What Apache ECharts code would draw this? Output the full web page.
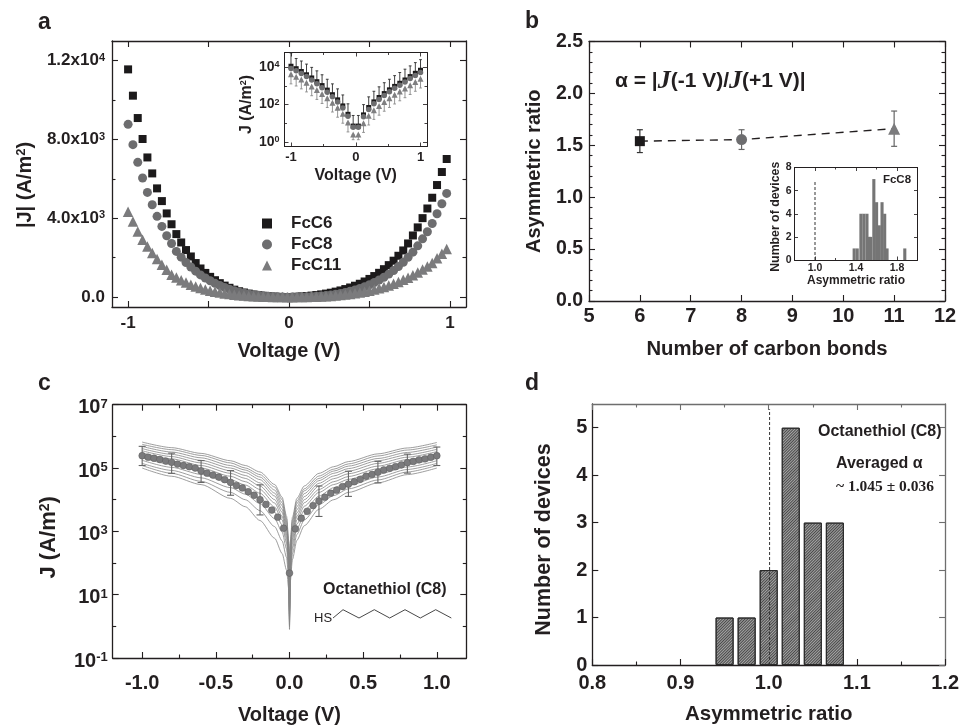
<!DOCTYPE html>
<html><head><meta charset="utf-8">
<style>html,body{margin:0;padding:0;background:#fff}#c{width:962px;height:726px}</style>
<script src="https://cdn.jsdelivr.net/npm/echarts@6/dist/echarts.min.js"></script>
</head><body><div id="c"></div>
<script>
// ---------- Panel a ----------
const voltageA=[-1,-0.97,-0.94,-0.91,-0.88,-0.85,-0.82,-0.79,-0.76,-0.73,-0.7,-0.67,-0.64,-0.61,-0.58,-0.55,-0.52,-0.49,-0.46,-0.43,-0.4,-0.37,-0.34,-0.31,-0.28,-0.25,-0.22,-0.19,-0.16,-0.13,-0.1,-0.07,-0.04,-0.01,0.02,0.05,0.08,0.11,0.14,0.17,0.2,0.23,0.26,0.29,0.32,0.35,0.38,0.41,0.44,0.47,0.5,0.53,0.56,0.59,0.62,0.65,0.68,0.71,0.74,0.77,0.8,0.83,0.86,0.89,0.92,0.95,0.98];
const fcC6=[11560,10225,9090,8025,7090,6280,5520,4875,4250,3700,3200,2775,2390,2065,1730,1455,1230,1030,860,710,585,475,380,300,235,180,135,100,70,45,28,14,5,1,8,20,35,55,78,105,140,180,225,280,340,410,490,580,680,795,925,1070,1235,1420,1625,1850,2100,2370,2725,3130,3540,4010,4500,5045,5690,6350,7010];
const fcC8=[8770,7740,6840,6045,5315,4690,4100,3590,3115,2725,2320,2030,1760,1530,1320,1130,970,830,700,590,490,405,330,265,210,165,125,92,65,45,28,15,6,1,2,6,12,20,30,44,62,85,115,150,190,240,300,365,440,530,630,745,870,1010,1170,1350,1550,1770,2020,2285,2605,2960,3320,3740,4230,4740,5265];
const fcC11=[4330,3840,3335,2910,2570,2235,1930,1640,1390,1135,1000,860,740,635,540,460,390,330,275,230,190,155,125,100,80,62,47,35,25,17,10,6,3,1,1,3,6,11,17,25,35,47,62,82,105,130,160,195,235,280,330,385,450,520,595,680,775,880,990,1115,1250,1400,1560,1730,1980,2200,2440];
const voltageInset=[-1,-0.92,-0.84,-0.76,-0.68,-0.6,-0.52,-0.44,-0.36,-0.28,-0.2,-0.12,-0.04,0.04,0.12,0.2,0.28,0.36,0.44,0.52,0.6,0.68,0.76,0.84,0.92,1];
const insetC6=[11500,8500,6000,4000,2700,1700,1050,600,340,180,85,30,7,7,28,70,140,240,390,620,950,1400,2100,3200,4800,7000];
const insetC8=[8800,6500,4700,3200,2100,1300,800,460,260,140,65,24,6,6,22,55,110,190,310,490,750,1100,1650,2500,3700,5300];
const insetC11=[4300,3100,2200,1500,950,600,370,220,125,68,32,11,2.5,2.5,10,25,50,85,140,220,340,500,740,1100,1650,2450];
const insetC6Up=[60000,30000,22000,15000,10000,6500,4000,2300,1300,700,330,110,26,26,100,260,520,900,1500,2300,3600,5300,8000,12000,18000,26000];
const insetC11Lo=[1300,1000,700,480,300,190,115,70,40,21,10,3.4,1.3,1.3,3.2,8,16,27,44,70,108,160,235,350,520,780];
// ---------- Panel b ----------
const bonds=[6,8,11];
const ratio=[1.54,1.555,1.66];
const ratioLow=[1.43,1.46,1.49];
const ratioHigh=[1.65,1.65,1.83];
const histBX=[1.382,1.412,1.448,1.477,1.507,1.527,1.543,1.574,1.601,1.627,1.654,1.68,1.703,1.876];
const histBY=[1,1,4,4,4,2,2,7,5,3,5,4,1,1];
// ---------- Panel c ----------
const curveV=[-1,-0.8,-0.6,-0.4,-0.3,-0.2,-0.1,-0.05,-0.02,-0.005,0,0.005,0.02,0.05,0.1,0.2,0.3,0.4,0.6,0.8,1];
const curve1=[6.6e5,4.4e5,2.9e5,1.7e5,1.2e5,7.5e4,3.0e4,1.2e4,3.0e3,500,1,450,2.8e3,1.1e4,2.7e4,6.8e4,1.1e5,1.6e5,2.8e5,4.3e5,6.4e5];
const curve2=[5.6e5,3.8e5,2.5e5,1.45e5,1.0e5,6.2e4,2.5e4,1.0e4,2.5e3,400,1.1,380,2.3e3,9e3,2.2e4,5.6e4,9.2e4,1.35e5,2.4e5,3.7e5,5.4e5];
const curve3=[4.8e5,3.2e5,2.1e5,1.2e5,8.6e4,5.2e4,2.0e4,8e3,2e3,320,1.3,310,1.9e3,7.5e3,1.9e4,4.7e4,8e4,1.15e5,2.0e5,3.1e5,4.6e5];
const curve4=[4.1e5,2.7e5,1.75e5,1.0e5,7.2e4,4.3e4,1.6e4,6.5e3,1.6e3,260,1.5,250,1.5e3,6e3,1.55e4,4e4,6.8e4,9.6e4,1.7e5,2.6e5,3.9e5];
const curve5=[3.5e5,2.3e5,1.45e5,8.2e4,5.8e4,3.4e4,1.3e4,5e3,1.3e3,210,1.7,200,1.2e3,4.8e3,1.25e4,3.3e4,5.6e4,8e4,1.4e5,2.2e5,3.3e5];
const curve6=[3.0e5,1.95e5,1.2e5,6.8e4,4.7e4,2.7e4,1e4,4e3,1e3,170,2,160,950,3.8e3,1e4,2.7e4,4.6e4,6.6e4,1.15e5,1.85e5,2.8e5];
const curve7=[2.5e5,1.6e5,1e5,5.5e4,3.7e4,2.1e4,7.8e3,3e3,800,130,2.4,125,750,3e3,8e3,2.1e4,3.7e4,5.4e4,9.5e4,1.55e5,2.35e5];
const curve8=[2.1e5,1.3e5,8e4,4.3e4,2.9e4,1.6e4,5.8e3,2.3e3,600,100,2.8,95,580,2.3e3,6.2e3,1.7e4,3e4,4.4e4,7.8e4,1.3e5,2e5];
const curve9=[1.75e5,1.05e5,6.3e4,3.3e4,2.1e4,1.15e4,4e3,1.6e3,430,75,3,70,420,1.7e3,4.6e3,1.3e4,2.4e4,3.5e4,6.4e4,1.08e5,1.7e5];
const curve10=[1.4e5,8.4e4,4.9e4,2.4e4,1.5e4,7.5e3,2.5e3,950,280,50,3.5,50,300,1.2e3,3.3e3,9.5e3,1.8e4,2.8e4,5.2e4,9e4,1.4e5];
const curve11=[1.2e5,6.8e4,3.8e4,1.7e4,1e4,4.5e3,1.4e3,500,150,32,4,35,200,800,2.3e3,7e3,1.35e4,2.2e4,4.2e4,7.5e4,1.2e5];
const curve12=[1.0e5,5.5e4,3e4,1.1e4,6e3,2.2e3,600,200,60,15,0.8,25,130,520,1.5e3,5e3,1e4,1.7e4,3.4e4,6.2e4,1.0e5];
const curves=[curve1,curve2,curve3,curve4,curve5,curve6,curve7,curve8,curve9,curve10,curve11,curve12];
const meanV=[-1,-0.96,-0.92,-0.88,-0.84,-0.8,-0.76,-0.72,-0.68,-0.64,-0.6,-0.56,-0.52,-0.48,-0.44,-0.4,-0.36,-0.32,-0.28,-0.24,-0.2,-0.16,-0.12,-0.08,-0.04,0,0.04,0.08,0.12,0.16,0.2,0.24,0.28,0.32,0.36,0.4,0.44,0.48,0.52,0.56,0.6,0.64,0.68,0.72,0.76,0.8,0.84,0.88,0.92,0.96,1];
const meanJ=[2.45e5,2.2e5,2.04e5,1.86e5,1.66e5,1.51e5,1.33e5,1.2e5,1.1e5,1e5,8.1e4,6.9e4,6e4,5.2e4,4.3e4,3.5e4,2.8e4,2.35e4,1.78e4,1.38e4,1e4,7.1e3,4.7e3,2.8e3,1.26e3,48,1.2e3,2.6e3,4.3e3,6.5e3,9.1e3,1.2e4,1.6e4,2e4,2.6e4,3.1e4,3.7e4,4.4e4,5.5e4,6.3e4,7.4e4,8.7e4,9.8e4,1.1e5,1.26e5,1.48e5,1.62e5,1.82e5,1.95e5,2.2e5,2.45e5];
const errV=[-1,-0.8,-0.6,-0.4,-0.2,0.2,0.4,0.6,0.8,1];
const errHigh=[4.84e5,2.95e5,1.72e5,8.3e4,2.95e4,2.7e4,7.9e4,1.62e5,2.75e5,4.6e5];
const errLow=[1.2e5,6.8e4,3.5e4,1.38e4,3.3e3,2.95e3,1.27e4,3.4e4,6.9e4,1.2e5];
// ---------- Panel d ----------
const histDX=[0.95,0.975,1,1.025,1.05,1.075];
const histDY=[1,1,2,5,3,3];

const FONT='"Liberation Sans",Arial,sans-serif';
const INK='#231f20';
const grid=[],xAxis=[],yAxis=[],series=[],graphic=[];
const supRich=sz=>({s:{fontFamily:FONT,fontWeight:'bold',fontSize:sz,color:INK,verticalAlign:'top'}});
const pow10Fmt=v=>'10{s|'+Math.round(Math.log10(v))+'}';

function frame(o){
  const gi=grid.length;
  grid.push({left:o.box[0],top:o.box[1],width:o.box[2]-o.box[0],height:o.box[3]-o.box[1],containLabel:false});
  const lc=o.lineColor||INK, lw=o.lw||1.3, tl=o.tickLen||6, ml=o.minorLen||3.5;
  const build=(s,posMain,posOpp,arr)=>{
    const ax=(pos,vals,len,line,main)=>{
      const a={type:s.type||'value',gridIndex:gi,position:pos,min:s.min,max:s.max,
        axisLine:{show:line,onZero:false,lineStyle:{color:pos===posMain?INK:lc,width:lw}},
        axisTick:{show:true,inside:true,length:len,customValues:vals,lineStyle:{color:pos===posMain?INK:lc,width:lw*0.85}},
        splitLine:{show:false},minorTick:{show:false},
        axisLabel:main?{show:true,customValues:s.labels,formatter:s.fmt,margin:s.margin,color:INK,fontFamily:FONT,fontWeight:'bold',fontSize:s.size,rich:s.rich,padding:s.labelPad,hideOverlap:false}:{show:false}};
      if(main&&s.name){
        a.name=s.name;a.nameLocation='middle';a.nameGap=s.nameGap;
        a.nameTextStyle={color:INK,fontFamily:FONT,fontWeight:'bold',fontSize:s.nameSize,rich:s.nameRich,padding:s.namePad};
      }
      return a;
    };
    const idx=arr.length;
    arr.push(ax(posMain,s.major,tl,true,true));
    arr.push(ax(posOpp,s.major,tl,true,false));
    if(s.minor){arr.push(ax(posMain,s.minor,ml,false,false));arr.push(ax(posOpp,s.minor,ml,false,false));}
    return idx;
  };
  return {x:build(o.x,'bottom','top',xAxis),y:build(o.y,'left','right',yAxis)};
}
const zip=(a,b)=>a.map((v,i)=>[v,b[i]]);
function errorBars(f,xs,lo,hi,color,cap,w,z){
  series.push({type:'custom',xAxisIndex:f.x,yAxisIndex:f.y,z:z||2,silent:true,clip:false,
    data:xs.map((v,i)=>[v,lo[i],hi[i]]),encode:{x:0,y:[1,2]},
    renderItem:(p,api)=>{
      const a=api.coord([api.value(0),api.value(1)]),b=api.coord([api.value(0),api.value(2)]);
      const st={stroke:color,lineWidth:w,fill:null};
      return {type:'group',children:[
        {type:'line',shape:{x1:a[0],y1:a[1],x2:b[0],y2:b[1]},style:st},
        {type:'line',shape:{x1:a[0]-cap,y1:a[1],x2:a[0]+cap,y2:a[1]},style:st},
        {type:'line',shape:{x1:b[0]-cap,y1:b[1],x2:b[0]+cap,y2:b[1]},style:st}]};
    }});
}
function text(x,y,t,size,extra){
  graphic.push({type:'text',x,y,z:20,style:Object.assign({text:t,fontFamily:FONT,fontWeight:'bold',fontSize:size,fill:INK,textVerticalAlign:'middle'},extra||{})});
}

// ===== a =====
const fa=frame({box:[112,41,466,307],
  x:{min:-1.1,max:1.1,major:[-1,-0.5,0,0.5,1],labels:[-1,0,1],fmt:v=>String(v),size:17,margin:8,name:'Voltage (V)',nameGap:34,nameSize:20},
  y:{min:-500,max:13000,major:[0,4000,8000,12000],minor:[2000,6000,10000],labels:[0,4000,8000,12000],
     fmt:v=>v===0?'0.0':(v>=10000?(v/10000).toFixed(1)+'x10{s|4}':(v/1000).toFixed(1)+'x10{s|3}'),rich:supRich(11),size:17,margin:7,
     name:'|J| (A/m{s|2})',nameGap:77,nameSize:20,nameRich:supRich(13),namePad:[0,22,0,0]}});
const scatterA=[['FcC6',fcC6,'rect',8,'#1c1a1b'],['FcC8',fcC8,'circle',9,'#6d6d6f'],['FcC11',fcC11,'triangle',10.5,'#7b7b7d']];
scatterA.forEach(([n,d,sym,sz,col])=>series.push({name:n,type:'scatter',xAxisIndex:fa.x,yAxisIndex:fa.y,data:zip(voltageA,d),symbol:sym,symbolSize:sz,itemStyle:{color:col,opacity:1},silent:true,clip:false}));

// a inset
const fai=frame({box:[284.5,52.5,427,146.5],tickLen:4,minorLen:2.5,lw:1,
  x:{min:-1.1,max:1.1,major:[-1,0,1],minor:[-0.5,0.5],labels:[-1,0,1],fmt:v=>String(v),size:13,margin:4,name:'Voltage (V)',nameGap:21,nameSize:16},
  y:{type:'log',min:0.56,max:63000,major:[1,100,10000],minor:[10,1000],labels:[1,100,10000],fmt:pow10Fmt,rich:supRich(9),size:14,margin:5,
     name:'J (A/m{s|2})',nameGap:26,nameSize:16,nameRich:supRich(9),namePad:[0,10,0,0]}});
errorBars(fai,voltageInset,insetC6,insetC6Up,'#2a2a2a',1.4,0.9,3);
errorBars(fai,voltageInset,insetC11Lo,insetC11,'#8a8a8a',1.4,0.9,3);
[['FcC6i',insetC6,'rect',5,'#1c1a1b'],['FcC8i',insetC8,'circle',5.5,'#6d6d6f'],['FcC11i',insetC11,'triangle',6,'#7f7f81']].forEach(([n,d,sym,sz,col])=>
  series.push({name:n,type:'scatter',xAxisIndex:fai.x,yAxisIndex:fai.y,z:4,data:zip(voltageInset,d),symbol:sym,symbolSize:sz,itemStyle:{color:col,opacity:1},silent:true}));

// ===== b =====
const fb=frame({box:[589,41.5,945,301],
  x:{min:5,max:12,major:[5,6,7,8,9,10,11,12],labels:[5,6,7,8,9,10,11,12],fmt:v=>String(v),size:20,margin:5,name:'Number of carbon bonds',nameGap:38,nameSize:20.3},
  y:{min:0,max:2.5,major:[0,0.5,1,1.5,2,2.5],minor:[0.1,0.2,0.3,0.4,0.6,0.7,0.8,0.9,1.1,1.2,1.3,1.4,1.6,1.7,1.8,1.9,2.1,2.2,2.3,2.4],labels:[0,0.5,1,1.5,2,2.5],fmt:v=>v.toFixed(1),size:19.5,margin:6,name:'Asymmetric ratio',nameGap:45,nameSize:20}});
series.push({type:'line',xAxisIndex:fb.x,yAxisIndex:fb.y,data:zip(bonds,ratio),symbol:'none',silent:true,lineStyle:{color:INK,width:1.4,type:[8,6]},z:2});
errorBars(fb,[bonds[0]],[ratioLow[0]],[ratioHigh[0]],'#333',3,1.2,2);
errorBars(fb,[bonds[1]],[ratioLow[1]],[ratioHigh[1]],'#666',3,1.2,2);
errorBars(fb,[bonds[2]],[ratioLow[2]],[ratioHigh[2]],'#666',3,1.2,2);
[[0,'rect',10,'#1c1a1b'],[1,'circle',11,'#6d6d6f'],[2,'triangle',12,'#7b7b7d']].forEach(([i,sym,sz,col])=>
  series.push({type:'scatter',xAxisIndex:fb.x,yAxisIndex:fb.y,z:3,data:[[bonds[i],ratio[i]]],symbol:sym,symbolSize:sz,itemStyle:{color:col,opacity:1},silent:true}));
// b inset
const fbi=frame({box:[794.5,167.5,917.5,260],tickLen:3.5,minorLen:2,lw:1,
  x:{min:0.8,max:2,major:[1,1.4,1.8],minor:[0.8,1.2,1.6,2],labels:[1,1.4,1.8],fmt:v=>v.toFixed(1),size:10.5,margin:3,name:'Asymmetric ratio',nameGap:14,nameSize:12},
  y:{min:0,max:8,major:[0,2,4,6,8],labels:[0,2,4,6,8],fmt:v=>String(v),size:10.5,margin:3,name:'Number of devices',nameGap:13,nameSize:12.3,namePad:[0,6,0,0]}});
series.push({type:'bar',xAxisIndex:fbi.x,yAxisIndex:fbi.y,data:zip(histBX,histBY),barWidth:3.1,silent:true,itemStyle:{color:'#757575'}});
series.push({type:'line',xAxisIndex:fbi.x,yAxisIndex:fbi.y,data:[[1,0],[1,6.8]],symbol:'none',silent:true,lineStyle:{color:'#333',width:1,type:[3,2]}});

// ===== c =====
const fc=frame({box:[112.7,404.7,466.3,666.3],
  x:{min:-1.2,max:1.2,major:[-1,-0.5,0,0.5,1],minor:[-0.75,-0.25,0.25,0.75],labels:[-1,-0.5,0,0.5,1],fmt:v=>v.toFixed(1),size:20,margin:15,name:'Voltage (V)',nameGap:47,nameSize:20},
  y:{type:'log',min:0.1,max:1e7,major:[0.1,10,1000,1e5,1e7],minor:[1,100,1e4,1e6],labels:[0.1,10,1000,1e5,1e7],fmt:pow10Fmt,rich:supRich(13),size:20,margin:5,labelPad:[6,0,0,0],name:'J (A/m{s|2})',nameGap:53,nameSize:22,nameRich:supRich(14),namePad:[0,12,0,0]}});
curves.forEach(c=>series.push({type:'line',xAxisIndex:fc.x,yAxisIndex:fc.y,data:zip(curveV,c),symbol:'none',smooth:0.25,smoothMonotone:'x',silent:true,lineStyle:{color:'#858585',width:0.8},z:2}));
errorBars(fc,errV,errLow,errHigh,'#666',3.5,1.1,3);
series.push({type:'scatter',xAxisIndex:fc.x,yAxisIndex:fc.y,z:4,data:zip(meanV,meanJ),symbol:'circle',symbolSize:6.8,silent:true,itemStyle:{color:'#7a7a7c',borderColor:'#5a5a5a',borderWidth:0.5,opacity:1}});

// ===== d =====
const hatch={symbol:'rect',dashArrayX:[1,0],dashArrayY:[1,1],rotation:-Math.PI/4,color:'rgba(50,50,50,0.8)'};
const fd=frame({box:[592.3,404,949.7,668.3],lineColor:'#6e6e6e',
  x:{min:0.8,max:1.2,major:[0.8,0.9,1,1.1,1.2],minor:[0.85,0.95,1.05,1.15],labels:[0.8,0.9,1,1.1,1.2],fmt:v=>v.toFixed(1),size:20,margin:8,name:'Asymmetric ratio',nameGap:39,nameSize:20.5},
  y:{min:0,max:5.5,major:[0,1,2,3,4,5],labels:[0,1,2,3,4,5],fmt:v=>String(v),size:20,margin:5,name:'Number of devices',nameGap:37,nameSize:21.5,namePad:[0,10,0,0]}});
series.push({type:'bar',xAxisIndex:fd.x,yAxisIndex:fd.y,data:zip(histDX,histDY),barWidth:18,silent:true,z:2,itemStyle:{color:'#a5a5a5',borderColor:'#2a2a2a',borderWidth:1,decal:hatch}});
series.push({type:'line',xAxisIndex:fd.x,yAxisIndex:fd.y,z:3,data:[[1.001,0],[1.001,5.39]],symbol:'none',silent:true,lineStyle:{color:'#333',width:1,type:[3,2]}});

// ===== annotations =====
text(38,23,'a',23);text(525,22,'b',23);text(38,384,'c',23);text(525,384,'d',23);
graphic.push({type:'text',x:615,y:81,z:20,style:{text:'{b|α = |}{j|J}{b|(-1 V)/}{j|J}{b|(+1 V)|}',textVerticalAlign:'middle',
  rich:{b:{fontFamily:FONT,fontWeight:'bold',fontSize:21,fill:INK},j:{fontFamily:'"Liberation Serif",serif',fontStyle:'italic',fontWeight:'bold',fontSize:26,fill:INK}}}});
text(897,180,'FcC8',11.5,{textAlign:'center'});
text(323,590,'Octanethiol (C8)',16);
text(314,618,'HS',13,{fontWeight:'normal'});
graphic.push({type:'polyline',z:20,shape:{points:[[333,618],[343,609.7],[359,618],[374.3,609.7],[389.7,618],[405,609.7],[420.3,618],[435.7,609.7],[451.3,618]]},style:{stroke:'#333',lineWidth:0.9,fill:null}});
text(818,432,'Octanethiol (C8)',16);
text(836,464,'Averaged α',16);
text(836,487,'~ 1.045 ± 0.036',15.5,{fontFamily:'"Liberation Serif",serif'});

const chart=echarts.init(document.getElementById('c'),null,{renderer:'canvas',width:962,height:726});
chart.setOption({animation:false,backgroundColor:'#fff',grid,xAxis,yAxis,series,graphic,
  legend:{show:true,left:257,top:210,orient:'vertical',itemGap:4,itemWidth:10,itemHeight:10,
    data:[{name:'FcC6',icon:'rect'},{name:'FcC8',icon:'circle'},{name:'FcC11',icon:'triangle'}],
    textStyle:{fontFamily:FONT,fontWeight:'bold',fontSize:17,color:INK,padding:[0,0,0,14]},selectedMode:false}});
</script>
</body></html>
